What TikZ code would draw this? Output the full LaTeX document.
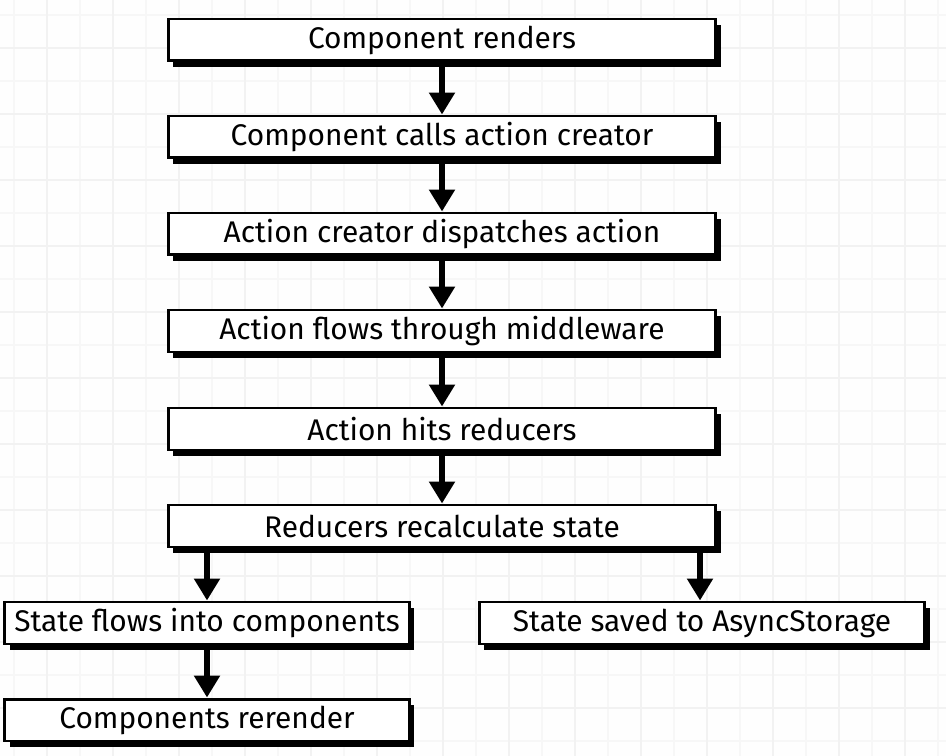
\documentclass[tikz,border=0pt]{standalone}
\usepackage{fontspec}
\setmainfont{Fira Sans}
\usetikzlibrary{arrows.meta,shadows}

\begin{document}
\begin{tikzpicture}[x=0.02cm, y=-0.02cm,
        step box/.style={draw, line width=1.7pt, fill=white, minimum height=0.84cm,
            inner sep=0pt, font=\fontsize{17}{20}\selectfont,
            drop shadow={shadow xshift=0.1cm, shadow yshift=-0.12cm, fill=black, opacity=1}},
        flow/.style={line width=3.1pt, -{Triangle[width=0.5cm, length=0.44cm]}}]
        \useasboundingbox (0,0) rectangle (946,756);
        \fill[white!99!gray] (0,0) rectangle (946,756);
        \foreach \gx in {14,47,...,946} \draw[black!3, line width=0.6pt] (\gx,0) -- (\gx,756);
        \foreach \gy in {15,48,...,756} \draw[black!3, line width=0.6pt] (0,\gy) -- (946,\gy);
        \foreach \gx in {47,113,...,946} \draw[black!5, line width=0.8pt] (\gx,0) -- (\gx,756);
        \foreach \gy in {48,114,...,756} \draw[black!5, line width=0.8pt] (0,\gy) -- (946,\gy);

        \node[step box, minimum width=10.96cm] (render) at (442,40) {Component renders};
        \node[step box, minimum width=10.96cm] (calls) at (442,137) {Component calls action creator};
        \node[step box, minimum width=10.96cm] (dispatch) at (442,234) {Action creator dispatches action};
        \node[step box, minimum width=10.96cm] (middle) at (442,331) {Action flows through middleware};
        \node[step box, minimum width=10.96cm] (hits) at (442,429) {Action hits reducers};
        \node[step box, minimum width=10.96cm] (recalc) at (442,526) {Reducers recalculate state};
        \node[step box, minimum width=8.1cm] (flows) at (207,623) {State flows into components};
        \node[step box, minimum width=8.92cm] (saved) at (702,623) {State saved to AsyncStorage};
        \node[step box, minimum width=8.1cm] (rerender) at (207,720) {Components rerender};

        \draw[flow] (render) -- (calls);
        \draw[flow] (calls) -- (dispatch);
        \draw[flow] (dispatch) -- (middle);
        \draw[flow] (middle) -- (hits);
        \draw[flow] (hits) -- (recalc);
        \draw[flow] (recalc.south -| flows.north) -- (flows.north);
        \draw[flow] (recalc.south -| 700,0) -- (saved.north -| 700,0);
        \draw[flow] (flows) -- (rerender);
    \end{tikzpicture}
\end{document}
